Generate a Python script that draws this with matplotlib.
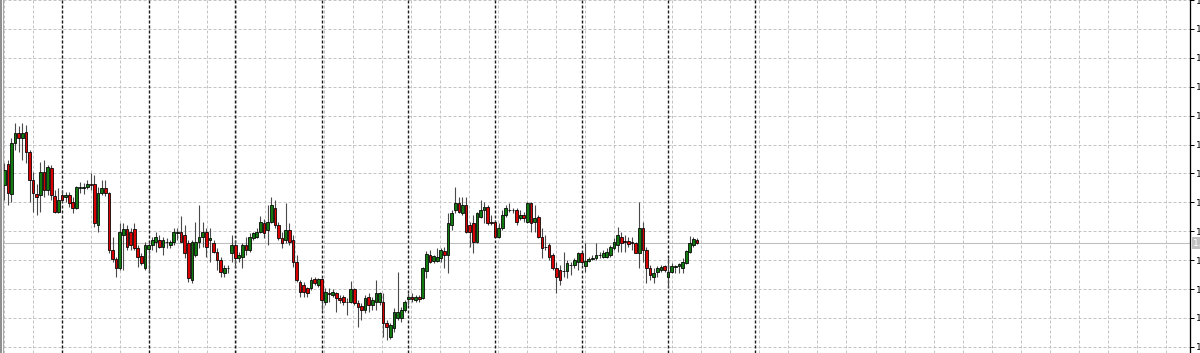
import numpy as np
import matplotlib
matplotlib.use("Agg")
import matplotlib.pyplot as plt
from matplotlib.lines import Line2D

# ---- data: hourly candles (prices), bar index 0 = first bar of first day separator ----
first_bar = -16
opens = [1.1168,1.1189,1.1159,1.1210,1.1220,1.1215,1.1221,1.1201,1.1173,1.1159,
         1.1158,1.1181,1.1163,1.1185,1.1157,1.1141,1.1158,1.1156,1.1158,1.1151,
         1.1145,1.1165,1.1165,1.1166,1.1169,1.1169,1.1128,1.1160,1.1165,1.1160,
         1.1103,1.1094,1.1085,1.1118,1.1124,1.1121,1.1124,1.1105,1.1097,1.1085,
         1.1104,1.1108,1.1111,1.1113,1.1106,1.1111,1.1108,1.1111,1.1120,1.1121,
         1.1118,1.1110,1.1073,1.1098,1.1111,1.1116,1.1121,1.1113,1.1110,1.1101,
         1.1093,1.1080,1.1085,1.1100,1.1108,1.1095,1.1096,1.1108,1.1103,1.1115,
         1.1116,1.1121,1.1130,1.1123,1.1131,1.1145,1.1128,1.1115,1.1113,1.1123,
         1.1113,1.1091,1.1071,1.1068,1.1065,1.1065,1.1074,1.1068,1.1074,1.1051,
         1.1060,1.1058,1.1060,1.1055,1.1056,1.1051,1.1051,1.1064,1.1050,1.1047,
         1.1043,1.1056,1.1048,1.1051,1.1051,1.1051,1.1030,1.1016,1.1025,1.1035,
         1.1035,1.1043,1.1054,1.1056,1.1053,1.1056,1.1055,1.1082,1.1098,1.1092,
         1.1092,1.1095,1.1102,1.1098,1.1128,1.1143,1.1150,1.1140,1.1148,1.1128,
         1.1130,1.1111,1.1136,1.1143,1.1146,1.1131,1.1131,1.1116,1.1125,1.1138,
         1.1143,1.1143,1.1143,1.1135,1.1138,1.1131,1.1150,1.1131,1.1136,1.1116,
         1.1106,1.1108,1.1098,1.1085,1.1083,1.1082,1.1082,1.1088,1.1088,1.1091,
         1.1100,1.1087,1.1092,1.1094,1.1095,1.1098,1.1096,1.1096,1.1098,1.1105,
         1.1108,1.1116,1.1112,1.1112,1.1111,1.1110,1.1100,1.1125,1.1103,1.1085,
         1.1076,1.1081,1.1083,1.1087,1.1076,1.1081,1.1086,1.1087,1.1085,1.1090,
         1.1101,1.1108,1.1113]
highs = [1.1190,1.1193,1.1215,1.1230,1.1227,1.1230,1.1228,1.1203,1.1181,1.1169,
         1.1191,1.1193,1.1188,1.1188,1.1163,1.1165,1.1163,1.1161,1.1161,1.1156,
         1.1167,1.1171,1.1170,1.1173,1.1180,1.1178,1.1166,1.1173,1.1173,1.1161,
         1.1116,1.1096,1.1130,1.1130,1.1128,1.1125,1.1130,1.1108,1.1100,1.1111,
         1.1111,1.1116,1.1121,1.1118,1.1116,1.1115,1.1113,1.1125,1.1125,1.1137,
         1.1128,1.1113,1.1113,1.1131,1.1148,1.1131,1.1125,1.1125,1.1113,1.1105,
         1.1096,1.1088,1.1088,1.1118,1.1113,1.1101,1.1110,1.1116,1.1120,1.1121,
         1.1125,1.1137,1.1134,1.1148,1.1156,1.1153,1.1131,1.1121,1.1150,1.1130,
         1.1118,1.1098,1.1073,1.1071,1.1066,1.1076,1.1076,1.1075,1.1075,1.1065,
         1.1065,1.1064,1.1061,1.1058,1.1058,1.1055,1.1072,1.1065,1.1053,1.1050,
         1.1058,1.1060,1.1056,1.1073,1.1061,1.1060,1.1033,1.1030,1.1045,1.1081,
         1.1046,1.1053,1.1060,1.1060,1.1058,1.1058,1.1086,1.1102,1.1103,1.1098,
         1.1105,1.1105,1.1106,1.1140,1.1143,1.1166,1.1156,1.1156,1.1156,1.1131,
         1.1138,1.1141,1.1153,1.1151,1.1148,1.1138,1.1133,1.1130,1.1143,1.1148,
         1.1150,1.1145,1.1145,1.1143,1.1141,1.1151,1.1151,1.1148,1.1138,1.1125,
         1.1118,1.1110,1.1100,1.1091,1.1088,1.1101,1.1093,1.1091,1.1095,1.1101,
         1.1101,1.1110,1.1096,1.1098,1.1110,1.1101,1.1103,1.1105,1.1108,1.1115,
         1.1126,1.1121,1.1118,1.1116,1.1116,1.1111,1.1151,1.1131,1.1106,1.1088,
         1.1085,1.1087,1.1088,1.1088,1.1095,1.1090,1.1088,1.1090,1.1095,1.1103,
         1.1117,1.1116,1.1115]
lows = [1.1153,1.1148,1.1151,1.1203,1.1201,1.1193,1.1190,1.1151,1.1141,1.1138,
        1.1141,1.1156,1.1158,1.1153,1.1140,1.1140,1.1151,1.1151,1.1146,1.1140,
        1.1144,1.1160,1.1159,1.1164,1.1163,1.1126,1.1121,1.1158,1.1157,1.1100,
        1.1091,1.1076,1.1083,1.1083,1.1103,1.1103,1.1103,1.1086,1.1088,1.1083,
        1.1081,1.1103,1.1101,1.1105,1.1098,1.1105,1.1105,1.1108,1.1113,1.1111,
        1.1095,1.1071,1.1070,1.1096,1.1105,1.1106,1.1096,1.1091,1.1100,1.1083,
        1.1076,1.1076,1.1080,1.1091,1.1086,1.1091,1.1085,1.1098,1.1101,1.1113,
        1.1115,1.1120,1.1115,1.1108,1.1130,1.1125,1.1113,1.1105,1.1110,1.1108,
        1.1086,1.1071,1.1056,1.1056,1.1056,1.1063,1.1068,1.1066,1.1043,1.1048,
        1.1051,1.1056,1.1041,1.1050,1.1048,1.1038,1.1050,1.1048,1.1026,1.1033,
        1.1040,1.1041,1.1043,1.1043,1.1048,1.1016,1.1013,1.1014,1.1021,1.1033,
        1.1031,1.1041,1.1048,1.1051,1.1051,1.1051,1.1054,1.1075,1.1090,1.1090,
        1.1091,1.1091,1.1085,1.1080,1.1123,1.1140,1.1140,1.1138,1.1120,1.1106,
        1.1100,1.1110,1.1135,1.1130,1.1128,1.1128,1.1115,1.1115,1.1123,1.1136,
        1.1141,1.1140,1.1128,1.1133,1.1131,1.1130,1.1121,1.1121,1.1115,1.1095,
        1.1103,1.1093,1.1083,1.1060,1.1068,1.1076,1.1075,1.1078,1.1085,1.1083,
        1.1088,1.1081,1.1091,1.1093,1.1093,1.1095,1.1095,1.1095,1.1096,1.1103,
        1.1101,1.1101,1.1101,1.1106,1.1103,1.1100,1.1085,1.1091,1.1070,1.1073,
        1.1070,1.1076,1.1081,1.1081,1.1066,1.1080,1.1080,1.1080,1.1080,1.1089,
        1.1100,1.1106,1.1109]
closes = [1.1183,1.1160,1.1210,1.1220,1.1215,1.1220,1.1201,1.1173,1.1160,1.1156,
          1.1181,1.1163,1.1186,1.1158,1.1141,1.1153,1.1153,1.1158,1.1150,1.1145,
          1.1166,1.1166,1.1166,1.1169,1.1168,1.1130,1.1160,1.1165,1.1160,1.1103,
          1.1094,1.1085,1.1121,1.1124,1.1106,1.1108,1.1105,1.1096,1.1090,1.1108,
          1.1108,1.1113,1.1116,1.1106,1.1113,1.1111,1.1111,1.1121,1.1121,1.1111,
          1.1100,1.1075,1.1111,1.1111,1.1116,1.1121,1.1106,1.1115,1.1101,1.1093,
          1.1081,1.1085,1.1085,1.1108,1.1095,1.1098,1.1108,1.1103,1.1116,1.1120,
          1.1121,1.1131,1.1120,1.1131,1.1148,1.1128,1.1115,1.1110,1.1123,1.1111,
          1.1091,1.1073,1.1061,1.1061,1.1060,1.1073,1.1070,1.1074,1.1053,1.1061,
          1.1059,1.1061,1.1055,1.1053,1.1051,1.1051,1.1064,1.1050,1.1046,1.1043,
          1.1055,1.1048,1.1053,1.1060,1.1060,1.1030,1.1026,1.1028,1.1041,1.1041,
          1.1043,1.1051,1.1056,1.1054,1.1056,1.1054,1.1085,1.1099,1.1091,1.1097,
          1.1096,1.1103,1.1098,1.1130,1.1140,1.1150,1.1141,1.1148,1.1121,1.1121,
          1.1111,1.1140,1.1143,1.1146,1.1130,1.1130,1.1116,1.1125,1.1138,1.1145,
          1.1143,1.1143,1.1131,1.1138,1.1135,1.1150,1.1130,1.1135,1.1116,1.1105,
          1.1106,1.1096,1.1085,1.1076,1.1073,1.1082,1.1090,1.1088,1.1093,1.1100,
          1.1091,1.1092,1.1094,1.1095,1.1098,1.1098,1.1100,1.1101,1.1106,1.1111,
          1.1118,1.1110,1.1111,1.1109,1.1110,1.1100,1.1125,1.1103,1.1085,1.1078,
          1.1080,1.1085,1.1086,1.1083,1.1081,1.1087,1.1087,1.1089,1.1091,1.1102,
          1.1110,1.1114,1.1110]
bars_per_day = 24
price_top = 1.1353      # price at the top edge of the chart
price_bottom = 1.1000   # price at the bottom edge
grid_step = 0.00289     # price between horizontal grid lines

# ---- layout (pixels of the 1200x353 picture) ----
W, H = 1200, 353
ax_left_px, ax_right_px = 3, 1190
bar_px = 3.608          # pixel distance between bars
sep0_px = 62            # pixel x of bar index 0
vgrid0_px, vgrid_step_px = 4, 29.05

o = np.array(opens); h = np.array(highs); l = np.array(lows); c = np.array(closes)
n = len(o)
x = np.arange(first_bar, first_bar + n)

fig = plt.figure(figsize=(W / 100, H / 100), dpi=100)
fig.patch.set_facecolor("white")
ax = fig.add_axes([ax_left_px / W, 0, (ax_right_px - ax_left_px) / W, 1])
ax.set_facecolor("white")

def px_to_bar(px):
    return (np.asarray(px) - sep0_px) / bar_px

ax.set_xlim(px_to_bar(ax_left_px), px_to_bar(ax_right_px))
ax.set_ylim(price_bottom, price_top)

px1 = 0.72  # one pixel in points
grid_col = "#c4c4c4"

# horizontal grid
hgrid = price_top - grid_step * np.arange(0, 13)
for yv in hgrid:
    ax.axhline(yv, color=grid_col, lw=px1, dashes=(3, 2), zorder=0)
# vertical grid
vgrid_px = vgrid0_px + vgrid_step_px * np.arange(0, 41)
for xv in px_to_bar(vgrid_px):
    ax.axvline(xv, color=grid_col, lw=px1, dashes=(3, 2), zorder=0)
# day separators (black, dashed 3 px on / 2 px off)
sep_lw = px1 * 1.4
for d in range(0, 9):
    ax.axvline(d * bars_per_day, color="#1a1a1a", lw=sep_lw,
               dashes=(3 * px1 / sep_lw, 2 * px1 / sep_lw), zorder=1)

# current price line
ax.axhline(c[-1], color="#c0c0c0", lw=px1 * 1.1, zorder=1)

# candles
ax.vlines(x, l, h, color="#4a4a4a", lw=px1 * 1.1, zorder=2)
body_col = np.where(c > o, "#107a10", np.where(c < o, "#d80000", "#000000"))
ax.bar(x, c - o, bottom=o, width=0.75, color=body_col, edgecolor="black",
       linewidth=px1 * 0.8, zorder=3)

# axes styling
for s in ["left", "top", "bottom"]:
    ax.spines[s].set_visible(False)
ax.spines["right"].set_color("black")
ax.spines["right"].set_linewidth(px1 * 1.3)
ax.set_xticks([])
ax.yaxis.tick_right()
ax.set_yticks(hgrid)
ax.set_yticklabels([f"{v:.5f}" for v in hgrid])
ax.tick_params(axis="y", direction="out", length=3, width=px1, color="black",
               pad=1.2, labelsize=6.5, labelcolor="black")

# current price label on the right scale
fig.text((ax_right_px + 3) / W, (c[-1] - price_bottom) / (price_top - price_bottom),
         f"{c[-1]:.5f}", fontsize=6.5, color="white", va="center", ha="left",
         bbox=dict(boxstyle="square,pad=0.15", fc="#c0c0c0", ec="none"))

# left window border
fig.add_artist(Line2D([0.8 / W] * 2, [0, 1], color="#6a6a6a", lw=px1 * 1.5,
                      transform=fig.transFigure))
fig.add_artist(Line2D([2.8 / W] * 2, [0, 1], color="#a8a8a8", lw=px1 * 1.1,
                      transform=fig.transFigure))

fig.savefig("out.png", dpi=100, facecolor="white")
